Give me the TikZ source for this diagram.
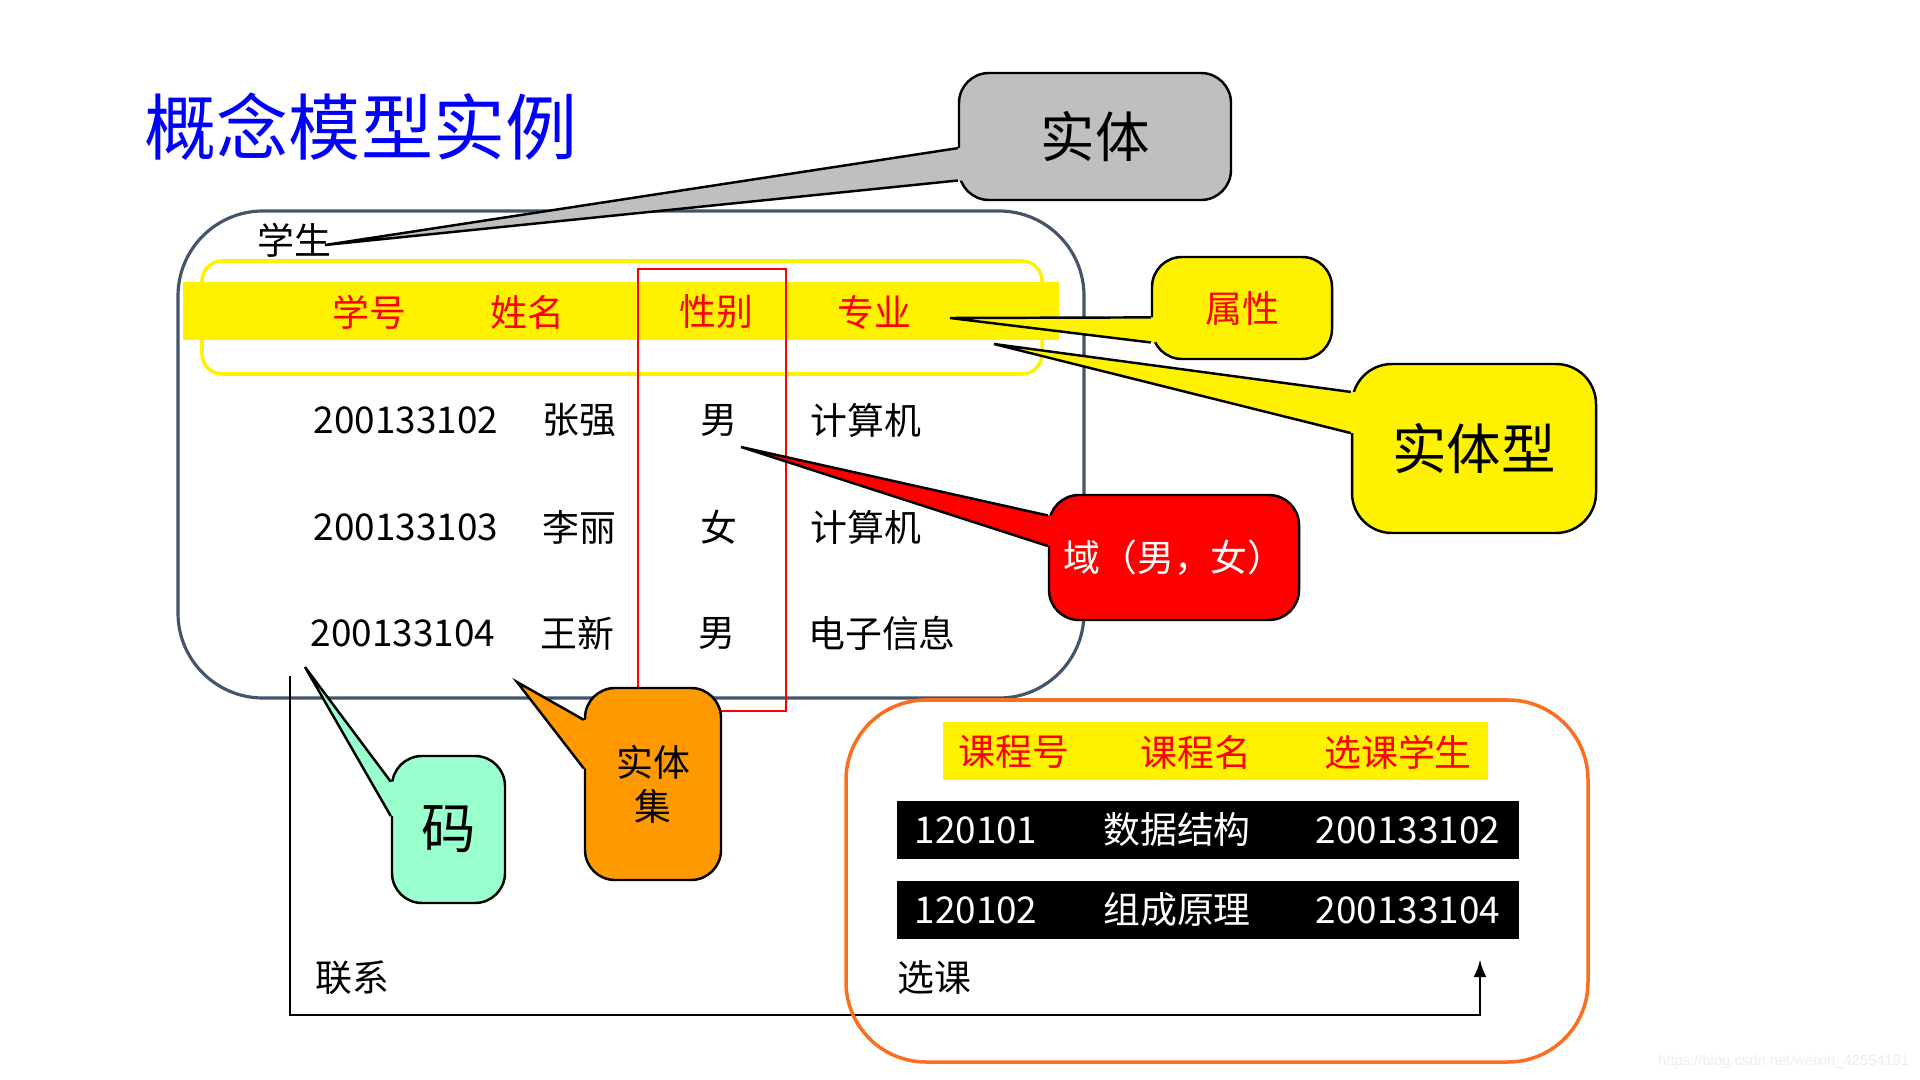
\documentclass[tikz,border=0pt]{standalone}
\usepackage{fontspec}
\setmainfont{Noto Sans CJK SC}
\newfontfamily\wmfont{Liberation Sans}
\usetikzlibrary{calc}
\definecolor{slate}{RGB}{68,84,106}
\definecolor{titleblue}{RGB}{0,0,255}
\definecolor{calloutgray}{RGB}{191,191,191}
\definecolor{mint}{RGB}{153,255,204}
\definecolor{boxorange}{RGB}{255,153,0}
\definecolor{courseorange}{RGB}{250,110,30}

\begin{document}
\begin{tikzpicture}[x=1cm,y=-1cm]
    \tikzstyle{title}=[font=\fontsize{20.5pt}{24pt}\selectfont,text=titleblue,inner sep=0pt]
    \tikzstyle{cell}=[font=\fontsize{10.5pt}{12.5pt}\selectfont,inner sep=0pt]
    \tikzstyle{head}=[cell,text=red]
    \tikzstyle{whitecell}=[cell,text=white]
    \tikzstyle{band}=[fill=yellow,inner sep=0pt,minimum height=0.58cm]
    \tikzstyle{blackrow}=[fill=black,inner sep=0pt,minimum width=6.22cm,minimum height=0.58cm]
    \tikzstyle{callout}=[draw=black,line width=0.7pt,rounded corners=3mm,inner sep=0pt,align=center]
    \tikzstyle{bigword}=[font=\fontsize{15.5pt}{18pt}\selectfont]
    \tikzstyle{side}=[line width=0.7pt]
    \useasboundingbox (0,0) rectangle (19.2,10.8);

    \node (title)[title] at (3.61,1.27) {概念模型实例};

    \node (student)[draw=slate,line width=0.9pt,rounded corners=0.85cm,minimum width=9.06cm,minimum height=4.87cm,inner sep=0pt] at (6.31,4.545) {};
    \node (studentname)[cell] at (2.94,2.40) {学生};
    \node (attrframe)[draw=yellow,line width=1pt,rounded corners=2mm,minimum width=8.40cm,minimum height=1.13cm,inner sep=0pt] at (6.22,3.175) {};
    \node (attrband)[band,minimum width=8.76cm] at (6.21,3.11) {};
    \node (sexcol)[draw=red,line width=0.8pt,minimum width=1.48cm,minimum height=4.42cm,inner sep=0pt] at (7.12,4.90) {};

    \node (hno)[head]    at (3.69,3.12) {学号};
    \node (hname)[head]  at (5.27,3.12) {姓名};
    \node (hsex)[head]   at (7.16,3.12) {性别};
    \node (hmajor)[head] at (8.74,3.12) {专业};

    \node (no1)[cell]    at (4.06,4.20) {200133102};
    \node (name1)[cell]  at (5.79,4.20) {张强};
    \node (sex1)[cell]   at (7.19,4.20) {男};
    \node (major1)[cell] at (8.66,4.20) {计算机};
    \node (no2)[cell]    at (4.06,5.27) {200133103};
    \node (name2)[cell]  at (5.79,5.27) {李丽};
    \node (sex2)[cell]   at (7.19,5.27) {女};
    \node (major2)[cell] at (8.66,5.27) {计算机};
    \node (no3)[cell]    at (4.03,6.33) {200133104};
    \node (name3)[cell]  at (5.77,6.33) {王新};
    \node (sex3)[cell]   at (7.17,6.33) {男};
    \node (major3)[cell] at (8.82,6.33) {电子信息};

    \coordinate (linkA) at (2.90,6.76);
    \coordinate (linkB) at (14.80,10.15);
    \coordinate (linkC) at (14.80,9.60);
    \draw[line width=0.7pt,-latex] (linkA) |- (linkB) -- (linkC);
    \node (linkname)[cell] at (3.52,9.78) {联系};

    \node (course)[draw=courseorange,line width=1pt,rounded corners=0.8cm,minimum width=7.42cm,minimum height=3.62cm,inner sep=0pt] at (12.17,8.81) {};
    \node (courseband)[band,minimum width=5.45cm] at (12.155,7.51) {};
    \node (cno)[head]    at (10.14,7.52) {课程号};
    \node (cname)[head]  at (11.96,7.52) {课程名};
    \node (cstud)[head]  at (13.98,7.52) {选课学生};
    \node (crow1)[blackrow] at (12.08,8.30) {};
    \node (crow2)[blackrow] at (12.08,9.095) {};
    \node (cno1)[whitecell]   at (9.76,8.30) {120101};
    \node (cname1)[whitecell] at (11.77,8.30) {数据结构};
    \node (cstud1)[whitecell] at (14.08,8.30) {200133102};
    \node (cno2)[whitecell]   at (9.76,9.10) {120102};
    \node (cname2)[whitecell] at (11.77,9.10) {组成原理};
    \node (cstud2)[whitecell] at (14.08,9.10) {200133104};
    \node (coursename)[cell] at (9.34,9.78) {选课};

    \node (shiti)[callout,fill=calloutgray,bigword,minimum width=2.72cm,minimum height=1.27cm] at (10.95,1.365) {实体};
    \node (shuxing)[callout,fill=yellow,cell,text=red,minimum width=1.80cm,minimum height=1.02cm] at (12.42,3.08) {属性};
    \node (shitixing)[callout,fill=yellow,bigword,rounded corners=4mm,minimum width=2.44cm,minimum height=1.69cm] at (14.74,4.485) {实体型};
    \node (yu)[callout,fill=red,cell,text=white,minimum width=2.50cm,minimum height=1.25cm] at (11.74,5.575) {域（男，女）};
    \node (ma)[callout,fill=mint,bigword,minimum width=1.13cm,minimum height=1.47cm] at (4.485,8.295) {码};
    \node (shitiji)[callout,fill=boxorange,cell,minimum width=1.36cm,minimum height=1.92cm] at (6.53,7.84) {实体\\集};

    \coordinate (shitiTip) at (3.25,2.45);
    \coordinate (shitiA) at ($(shiti.north west)!0.59!(shiti.south west)$);
    \coordinate (shitiB) at ($(shiti.north west)!0.84!(shiti.south west)$);
    \fill[calloutgray] (shitiA) -- (shitiTip) -- (shitiB) -- ([xshift=1.5pt]shitiB) -- ([xshift=1.5pt]shitiA) -- cycle;
    \draw[side] (shitiA) -- (shitiTip) -- (shitiB);

    \coordinate (shuxingTip) at (9.50,3.18);
    \coordinate (shuxingA) at ($(shuxing.north west)!0.59!(shuxing.south west)$);
    \coordinate (shuxingB) at ($(shuxing.north west)!0.83!(shuxing.south west)$);
    \fill[yellow] (shuxingA) -- (shuxingTip) -- (shuxingB) -- ([xshift=1.5pt]shuxingB) -- ([xshift=1.5pt]shuxingA) -- cycle;
    \draw[side] (shuxingA) -- (shuxingTip) -- (shuxingB);

    \coordinate (shitixingTip) at (9.94,3.44);
    \coordinate (shitixingA) at ($(shitixing.north west)!0.17!(shitixing.south west)$);
    \coordinate (shitixingB) at ($(shitixing.north west)!0.41!(shitixing.south west)$);
    \fill[yellow] (shitixingA) -- (shitixingTip) -- (shitixingB) -- ([xshift=1.5pt]shitixingB) -- ([xshift=1.5pt]shitixingA) -- cycle;
    \draw[side] (shitixingA) -- (shitixingTip) -- (shitixingB);

    \coordinate (yuTip) at (7.41,4.47);
    \coordinate (yuA) at ($(yu.north west)!0.17!(yu.south west)$);
    \coordinate (yuB) at ($(yu.north west)!0.41!(yu.south west)$);
    \fill[red] (yuA) -- (yuTip) -- (yuB) -- ([xshift=1.5pt]yuB) -- ([xshift=1.5pt]yuA) -- cycle;
    \draw[side] (yuA) -- (yuTip) -- (yuB);

    \coordinate (maTip) at (3.05,6.67);
    \coordinate (maA) at ($(ma.north west)!0.18!(ma.south west)$);
    \coordinate (maB) at ($(ma.north west)!0.41!(ma.south west)$);
    \fill[mint] (maA) -- (maTip) -- (maB) -- ([xshift=1.5pt]maB) -- ([xshift=1.5pt]maA) -- cycle;
    \draw[side] (maA) -- (maTip) -- (maB);

    \coordinate (shitijiTip) at (5.17,6.82);
    \coordinate (shitijiA) at ($(shitiji.north west)!0.17!(shitiji.south west)$);
    \coordinate (shitijiB) at ($(shitiji.north west)!0.42!(shitiji.south west)$);
    \fill[boxorange] (shitijiA) -- (shitijiTip) -- (shitijiB) -- ([xshift=1.5pt]shitijiB) -- ([xshift=1.5pt]shitijiA) -- cycle;
    \draw[side] (shitijiA) -- (shitijiTip) -- (shitijiB);

    \node (watermark)[font=\wmfont\fontsize{4.2pt}{5pt}\selectfont,text=black!7,anchor=east,inner sep=0pt] at (19.10,10.62) {https://blog.csdn.net/weixin\_42554191};
\end{tikzpicture}
\end{document}
